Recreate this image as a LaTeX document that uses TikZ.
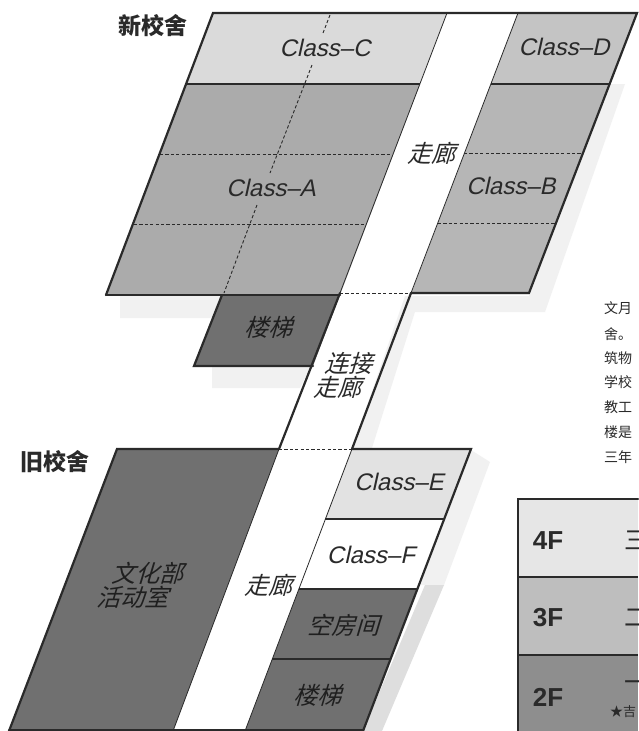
\documentclass[tikz,border=0pt]{standalone}
\usepackage{fontspec}
\setmainfont{Liberation Sans}
\newfontfamily\cjk{Noto Sans CJK SC}
\newfontfamily\cjki[FakeSlant=0.3]{Noto Sans CJK SC}
\newfontfamily\latini[FakeSlant=0.22]{Liberation Sans}
\definecolor{ink}{HTML}{2A2A2A}
\definecolor{lightA}{HTML}{DADADA}
\definecolor{midA}{HTML}{ABABAB}
\definecolor{midB}{HTML}{B6B6B6}
\definecolor{midD}{HTML}{C4C4C4}
\definecolor{darkA}{HTML}{707070}
\definecolor{lightE}{HTML}{E2E2E2}
\definecolor{ghost}{HTML}{F1F1F1}
\definecolor{ghostdark}{HTML}{DEDEDE}
\definecolor{rowfour}{HTML}{E6E6E6}
\definecolor{rowthree}{HTML}{BEBEBE}
\definecolor{rowtwo}{HTML}{8E8E8E}
\tikzset{
  thick edge/.style={draw=ink,line width=2.2pt,line cap=round,line join=miter},
  mid edge/.style={draw=ink,line width=1.2pt},
  thin edge/.style={draw=ink,line width=0.8pt},
  dash edge/.style={draw=ink,line width=0.9pt,dash pattern=on 3.2pt off 2.2pt},
  classlabel/.style={font=\fontsize{24}{24}\selectfont\latini,text=ink,inner sep=0pt},
  roomlabel/.style={font=\fontsize{24}{25}\selectfont\cjki,text=ink,inner sep=0pt,align=center},
  darkroom/.style={font=\fontsize{24}{25}\selectfont\cjki,text=black!88,inner sep=0pt,align=center},
  titlelabel/.style={font=\fontsize{23}{23}\selectfont\cjk\bfseries,text=ink,inner sep=0pt},
  floorlabel/.style={font=\fontsize{26}{26}\selectfont\bfseries,text=ink,inner sep=0pt},
  bodytext/.style={font=\fontsize{14}{14}\selectfont\cjk,text=ink,inner sep=0pt,anchor=west},
  tabletext/.style={font=\fontsize{25}{25}\selectfont\cjk,text=ink,inner sep=0pt,anchor=west},
}
\begin{document}
\begin{tikzpicture}[x=1pt,y=-1pt]
\useasboundingbox (0,0) rectangle (638,731);
\fill[white] (0,0) rectangle (638,731);
% faint print shadows
\fill[ghost] (120,296) -- (225,296) -- (216,318) -- (120,318) -- cycle;
\fill[ghost] (415,296) -- (529,296) -- (610,84) -- (625,84) -- (545,312) -- (408,312) -- cycle;
\fill[ghost] (212,366) -- (311,366) -- (300,388) -- (212,388) -- cycle;
\fill[ghost] (405,296) -- (420,296) -- (365,470) -- (352,449) -- cycle;
\fill[ghost] (471,450) -- (490,462) -- (444,585) -- (420,585) -- cycle;
\fill[ghostdark] (425,585) -- (444,585) -- (382,731) -- (363,731) -- cycle;
% new building
\fill[lightA] (213,13) -- (447,13) -- (420,84) -- (186,84) -- cycle;
\fill[midA] (186,84) -- (420,84) -- (340,295) -- (106,295) -- cycle;
\fill[midD] (518,13) -- (637,13) -- (610,84) -- (491,84) -- cycle;
\fill[midB] (491,84) -- (610,84) -- (529,294) -- (411,294) -- cycle;
% stairs
\fill[darkA] (222,295) -- (340,295) -- (313,366) -- (194,366) -- cycle;
% old building
\fill[darkA] (117,449) -- (279,449) -- (173,731) -- (9,731) -- cycle;
\fill[lightE] (352,449) -- (471,449) -- (444,519) -- (325,519) -- cycle;
\fill[darkA] (299,589) -- (417,589) -- (363,731) -- (245,731) -- cycle;
% table
\fill[rowfour] (518,499) rectangle (638,577);
\fill[rowthree] (518,577) rectangle (638,655);
\fill[rowtwo] (518,655) rectangle (638,731);
% thin walls of the corridors
\draw[thin edge] (447,13) -- (340,293);
\draw[thin edge] (518,13) -- (411,293);
\draw[thin edge] (352,449) -- (245,731);
\draw[thin edge] (279,449) -- (173,731);
% dividers
\draw[mid edge] (186,84) -- (420,84);
\draw[mid edge] (491,84) -- (610,84);
\draw[mid edge] (325,519) -- (444,519);
\draw[mid edge] (299,589) -- (417,589);
\draw[mid edge] (272,659) -- (390,659);
\draw[mid edge] (518,577) -- (638,577);
\draw[mid edge] (518,655) -- (638,655);
% dashed lines
\draw[dash edge] (160,154) -- (392,154);
\draw[dash edge] (464,153) -- (583,153);
\draw[dash edge] (134,224) -- (365,224);
\draw[dash edge] (438,223) -- (556,223);
\draw[dash edge] (340,293) -- (411,293);
\draw[dash edge] (279,449) -- (352,449);
\draw[dash edge] (330,15) -- (323,33);
\draw[dash edge] (312,65) -- (270,173);
\draw[dash edge] (257,205) -- (224,293);
% heavy outlines
\draw[thick edge] (106,295) -- (213,13) -- (637,13) -- (529,293) -- (411,293);
\draw[thick edge] (106,295) -- (340,295);
\draw[thick edge] (222,295) -- (194,366) -- (313,366);
\draw[thick edge] (340,293) -- (279,449);
\draw[thick edge] (411,293) -- (352,449);
\draw[thick edge] (279,449) -- (117,449) -- (9,731);
\draw[thick edge] (352,449) -- (471,449) -- (363,731);
\draw[thick edge] (9,730.5) -- (363,730.5);
\draw[thick edge] (638,499) -- (518,499) -- (518,731);
% labels
\node[titlelabel] (newtitle) at (153,26) {新校舍};
\node[titlelabel] (oldtitle) at (55,462) {旧校舍};
\node[classlabel] (classc) at (325,48) {Class–C};
\node[classlabel] (classd) at (564,47) {Class–D};
\node[classlabel] (classa) at (271,188) {Class–A};
\node[classlabel] (classb) at (511,186) {Class–B};
\node[classlabel] (classe) at (399,482) {Class–E};
\node[classlabel] (classf) at (371,555) {Class–F};
\node[roomlabel] (hallone) at (431,153) {走廊};
\node[darkroom] (stairone) at (268,327) {楼梯};
\node[roomlabel] (linkone) at (348,363) {连接};
\node[roomlabel] (linktwo) at (337,387) {走廊};
\node[roomlabel] (halltwo) at (268,585) {走廊};
\node[darkroom] (clubone) at (147,573) {文化部};
\node[darkroom] (clubtwo) at (132,597) {活动室};
\node[darkroom] (emptyroom) at (343,625) {空房间};
\node[darkroom] (stairtwo) at (317,695) {楼梯};
\node[floorlabel] (ffour) at (548,541) {4F};
\node[floorlabel] (fthree) at (548,618) {3F};
\node[floorlabel] (ftwo) at (548,697) {2F};
\node[tabletext] (rowa) at (624,540) {三};
\node[tabletext] (rowb) at (624,618) {二};
\node[tabletext] (rowc) at (624,686) {一};
\node[font=\fontsize{13}{13}\selectfont\cjk,text=ink,inner sep=0pt,anchor=west] (note) at (610,712) {★吉};
\node[bodytext] (ta) at (604,308) {文月};
\node[bodytext] (tb) at (604,334) {舍。};
\node[bodytext] (tc) at (604,358) {筑物};
\node[bodytext] (td) at (604,382) {学校};
\node[bodytext] (te) at (604,407) {教工};
\node[bodytext] (tf) at (604,432) {楼是};
\node[bodytext] (tg) at (604,457) {三年};
\end{tikzpicture}
\end{document}
